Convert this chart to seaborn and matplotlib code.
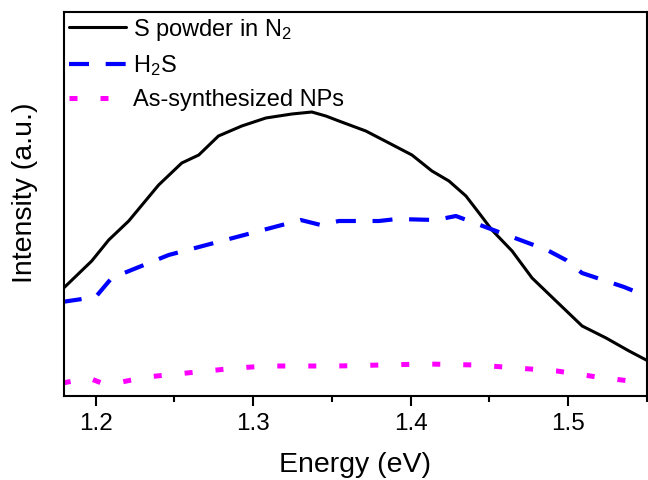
import numpy as np
import pandas as pd
import matplotlib
matplotlib.use('Agg')
import matplotlib.pyplot as plt
import seaborn as sns
from matplotlib.ticker import MultipleLocator

# intensity in arbitrary units
s_energy = [1.1797, 1.1975, 1.2083, 1.221, 1.240, 1.2547, 1.2655, 1.278, 1.2928, 1.3081,
            1.3246, 1.3373, 1.3462, 1.3545, 1.3716, 1.3863, 1.4009, 1.4136, 1.4244, 1.4352,
            1.4435, 1.4517, 1.4645, 1.4772, 1.4924, 1.509, 1.5242, 1.5388, 1.5497]
s_int = [108, 135, 156, 175, 211, 233, 241, 260, 270, 278,
         282, 284, 280, 275, 265, 253, 241, 225, 215, 200,
         183, 166, 145, 118, 95, 70, 58, 45, 36]

h2s_energy = [1.1785, 1.2, 1.2102, 1.2464, 1.3303, 1.343, 1.3545, 1.3799, 1.3913, 1.4161,
              1.4288, 1.4867, 1.4987, 1.5089, 1.5356, 1.5497]
h2s_int = [94, 99, 118, 141, 176, 171, 175, 175, 177, 176,
           180, 146, 136, 123, 109, 100]

np_energy = [1.1791, 1.1956, 1.2038, 1.2165, 1.2324, 1.2642, 1.2896, 1.3087, 1.3532, 1.4104,
             1.4422, 1.4676, 1.493, 1.5185, 1.5497]
np_int = [13, 18, 13, 14, 19, 24, 28, 30, 30, 32,
          31, 28, 25, 19, 13]

df = pd.concat([
    pd.DataFrame({'Energy': s_energy, 'Intensity': s_int, 'sample': 'S'}),
    pd.DataFrame({'Energy': h2s_energy, 'Intensity': h2s_int, 'sample': 'H2S'}),
    pd.DataFrame({'Energy': np_energy, 'Intensity': np_int, 'sample': 'NP'}),
])

sns.set_style('ticks', {'text.color': 'black', 'axes.labelcolor': 'black',
                        'xtick.color': 'black', 'ytick.color': 'black',
                        'axes.edgecolor': 'black'})
plt.rcParams['font.family'] = ['Liberation Sans', 'DejaVu Sans']
plt.rcParams['mathtext.default'] = 'regular'

fig = plt.figure(figsize=(6.48, 4.8), dpi=100)
ax = fig.add_axes([0.099, 0.175, 0.899, 0.8])

sns.lineplot(data=df[df['sample'] == 'S'], x='Energy', y='Intensity', ax=ax,
             color='black', lw=2.2, label='S powder in N$_2$', sort=False)
sns.lineplot(data=df[df['sample'] == 'H2S'], x='Energy', y='Intensity', ax=ax,
             color='#0000ff', lw=3, label='H$_2$S', sort=False)
sns.lineplot(data=df[df['sample'] == 'NP'], x='Energy', y='Intensity', ax=ax,
             color='#ff00ff', lw=3.6, label='As-synthesized NPs', sort=False)
ax.lines[1].set_dashes([4.8, 4.0])
ax.lines[2].set_dashes([1.6, 4.6])

ax.set_xlim(1.18, 1.55)
ax.set_ylim(0, 384)
ax.xaxis.set_major_locator(MultipleLocator(0.1))
ax.xaxis.set_minor_locator(MultipleLocator(0.05))
ax.set_yticks([])
ax.tick_params(axis='x', which='major', direction='out', length=7.5, width=1.5,
               labelsize=17.5, pad=5, colors='black')
ax.tick_params(axis='x', which='minor', direction='out', length=4.5, width=1.5, color='black')
for sp in ax.spines.values():
    sp.set_linewidth(1.5)
    sp.set_color('black')

ax.set_xlabel('Energy (eV)', fontsize=20.5, labelpad=12, color='black')
ax.set_ylabel('Intensity (a.u.)', fontsize=20.5, color='black')
ax.yaxis.set_label_coords(-0.045, 0.53)

leg = ax.legend(loc='upper left', frameon=False, fontsize=17, handlelength=2.4,
                handletextpad=0.3, labelspacing=0.45, borderaxespad=0.0,
                borderpad=0.2)
for t in leg.get_texts():
    t.set_color('black')
leg.get_lines()[1].set_dashes([4.8, 4.0])
leg.get_lines()[2].set_dashes([1.6, 4.6])

plt.savefig('out.png', dpi=100)
